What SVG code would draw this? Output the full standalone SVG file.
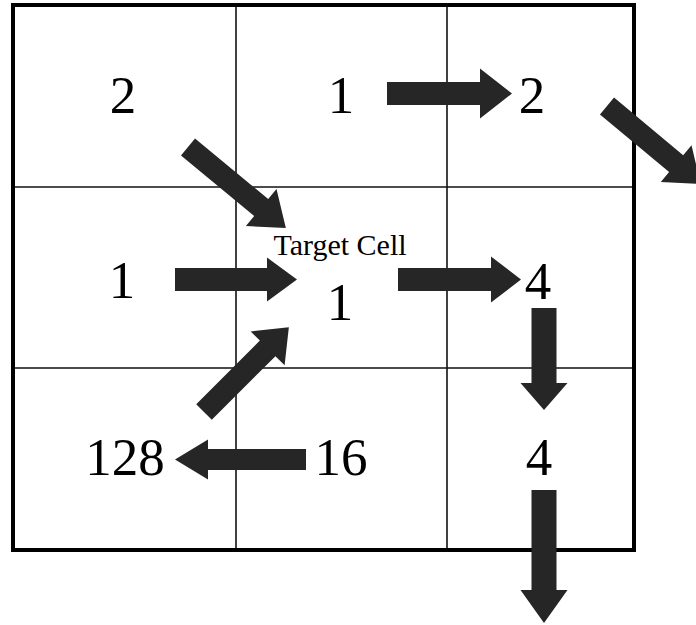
<svg xmlns="http://www.w3.org/2000/svg" width="696" height="625" viewBox="0 0 696 625">
  <style>
    .grid { fill: none; stroke: #111; stroke-width: 1.6; }
    .frame { fill: none; stroke: #000; stroke-width: 4; }
    .val { font-family: "Liberation Serif", "Times New Roman", serif; font-size: 53px; fill: #000; text-anchor: middle; }
    .lbl { font-family: "Liberation Serif", "Times New Roman", serif; font-size: 30px; fill: #000; text-anchor: middle; }
    .arrow { fill: #262626; }
  </style>
  <rect width="696" height="625" fill="#fff"/>

  <!-- 3x3 grid -->
  <g id="grid">
    <line class="grid" x1="236" y1="5" x2="236" y2="550"/>
    <line class="grid" x1="447" y1="5" x2="447" y2="550"/>
    <line class="grid" x1="13" y1="187" x2="634" y2="187"/>
    <line class="grid" x1="13" y1="368" x2="634" y2="368"/>
    <rect class="frame" x="13" y="5" width="621" height="545"/>
  </g>

  <!-- cells and their values -->
  <g id="cell-r1c1"><text class="val" x="123" y="113">2</text></g>
  <g id="cell-r1c2"><text class="val" x="341" y="113">1</text></g>
  <g id="cell-r1c3"><text class="val" x="532" y="113">2</text></g>
  <g id="cell-r2c1"><text class="val" x="122" y="298">1</text></g>
  <g id="cell-r2c2">
    <text class="lbl" x="340" y="255">Target Cell</text>
    <text class="val" x="340" y="320">1</text>
  </g>
  <g id="cell-r2c3"><text class="val" x="538" y="299">4</text></g>
  <g id="cell-r3c1"><text class="val" x="125" y="475">128</text></g>
  <g id="cell-r3c2"><text class="val" x="341" y="475">16</text></g>
  <g id="cell-r3c3"><text class="val" x="539" y="475">4</text></g>

  <!-- flow arrows: each drawn from its tail (origin) toward +x, then placed -->
  <g id="connectors">
    <path class="arrow" transform="translate(188,147) rotate(39.6)" d="M0,-11 H95 V-24 L127,0 L95,24 V11 H0 Z"/>
    <path class="arrow" transform="translate(387,93.5)" d="M0,-11.5 H93 V-25 L125,0 L93,25 V11.5 H0 Z"/>
    <path class="arrow" transform="translate(607,106) rotate(39.8)" d="M0,-11 H90 V-24 L122,0 L90,24 V11 H0 Z"/>
    <path class="arrow" transform="translate(175,279.5)" d="M0,-11.5 H92 V-22 L122,0 L92,22 V11.5 H0 Z"/>
    <path class="arrow" transform="translate(398,279.5)" d="M0,-11.5 H93 V-23 L123,0 L93,23 V11.5 H0 Z"/>
    <path class="arrow" transform="translate(544,308) rotate(90)" d="M0,-12.5 H75 V-23.5 L102,0 L75,23.5 V12.5 H0 Z"/>
    <path class="arrow" transform="translate(544,490) rotate(90)" d="M0,-12.5 H100 V-23.5 L133,0 L100,23.5 V12.5 H0 Z"/>
    <path class="arrow" transform="translate(204,412) rotate(-45)" d="M0,-11 H90 V-24 L120,0 L90,24 V11 H0 Z"/>
    <path class="arrow" transform="translate(306,459.5) rotate(180)" d="M0,-10.5 H98 V-20 L131,0 L98,20 V10.5 H0 Z"/>
  </g>
</svg>
